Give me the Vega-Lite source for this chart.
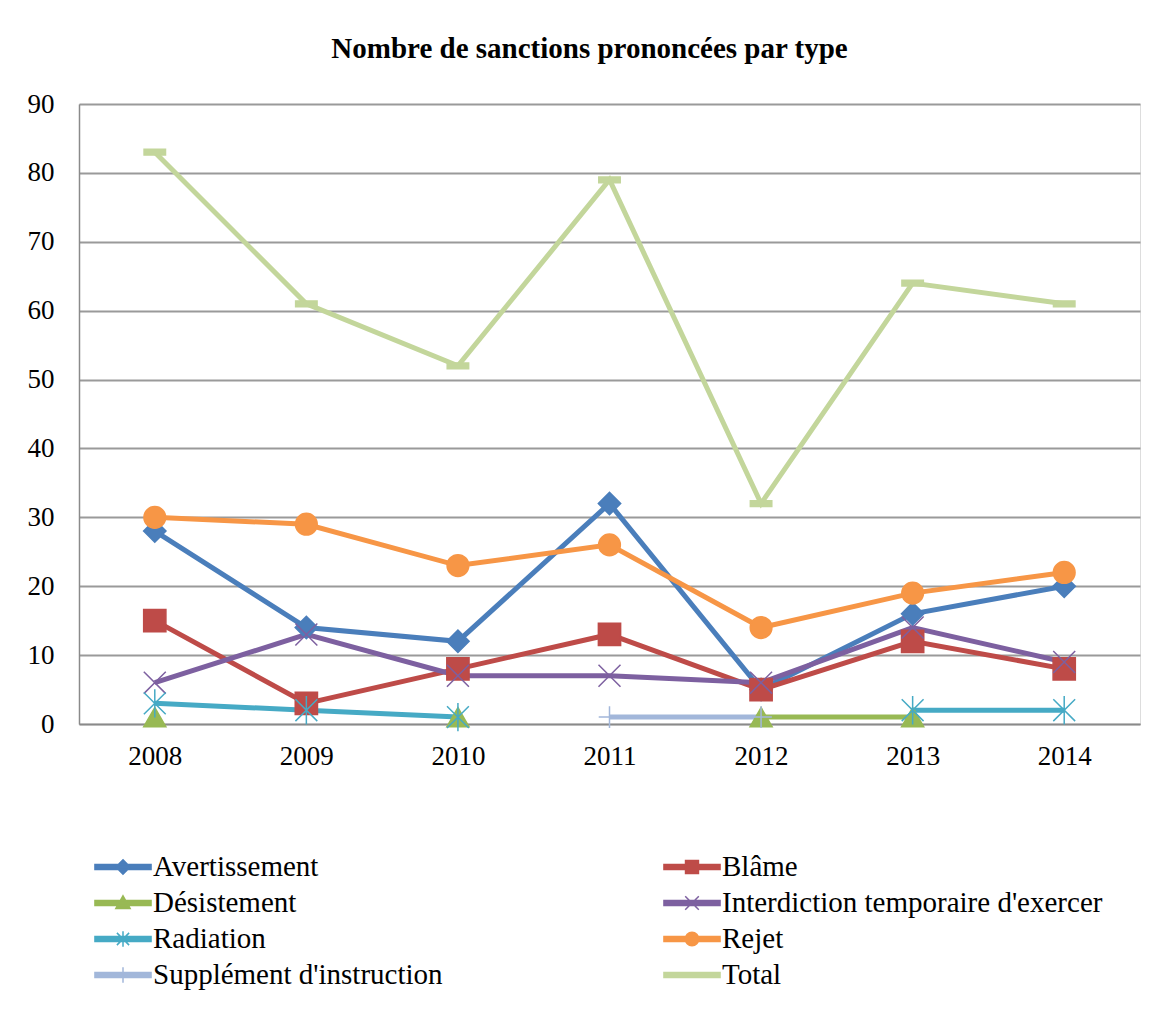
{
  "$schema": "https://vega.github.io/schema/vega-lite/v6.json",
  "width": 1061,
  "height": 620,
  "autosize": "none",
  "padding": {"left": 79, "top": 104, "right": 33, "bottom": 285},
  "background": "white",
  "title": {
    "text": "Nombre de sanctions prononcées par type",
    "font": "Liberation Serif",
    "fontSize": 29,
    "fontWeight": "bold",
    "color": "black",
    "anchor": "middle",
    "frame": "group",
    "dx": -20,
    "baseline": "alphabetic",
    "offset": 3
  },
  "data": {
    "values": [
      {"annee": "2008", "type": "Avertissement", "n": 28},
      {"annee": "2009", "type": "Avertissement", "n": 14},
      {"annee": "2010", "type": "Avertissement", "n": 12},
      {"annee": "2011", "type": "Avertissement", "n": 32},
      {"annee": "2012", "type": "Avertissement", "n": 5},
      {"annee": "2013", "type": "Avertissement", "n": 16},
      {"annee": "2014", "type": "Avertissement", "n": 20},
      {"annee": "2008", "type": "Blâme", "n": 15},
      {"annee": "2009", "type": "Blâme", "n": 3},
      {"annee": "2010", "type": "Blâme", "n": 8},
      {"annee": "2011", "type": "Blâme", "n": 13},
      {"annee": "2012", "type": "Blâme", "n": 5},
      {"annee": "2013", "type": "Blâme", "n": 12},
      {"annee": "2014", "type": "Blâme", "n": 8},
      {"annee": "2008", "type": "Désistement", "n": 1},
      {"annee": "2009", "type": "Désistement", "n": null},
      {"annee": "2010", "type": "Désistement", "n": 1},
      {"annee": "2011", "type": "Désistement", "n": null},
      {"annee": "2012", "type": "Désistement", "n": 1},
      {"annee": "2013", "type": "Désistement", "n": 1},
      {"annee": "2008", "type": "Interdiction temporaire d'exercer", "n": 6},
      {"annee": "2009", "type": "Interdiction temporaire d'exercer", "n": 13},
      {"annee": "2010", "type": "Interdiction temporaire d'exercer", "n": 7},
      {"annee": "2011", "type": "Interdiction temporaire d'exercer", "n": 7},
      {"annee": "2012", "type": "Interdiction temporaire d'exercer", "n": 6},
      {"annee": "2013", "type": "Interdiction temporaire d'exercer", "n": 14},
      {"annee": "2014", "type": "Interdiction temporaire d'exercer", "n": 9},
      {"annee": "2008", "type": "Radiation", "n": 3},
      {"annee": "2009", "type": "Radiation", "n": 2},
      {"annee": "2010", "type": "Radiation", "n": 1},
      {"annee": "2011", "type": "Radiation", "n": null},
      {"annee": "2012", "type": "Radiation", "n": null},
      {"annee": "2013", "type": "Radiation", "n": 2},
      {"annee": "2014", "type": "Radiation", "n": 2},
      {"annee": "2008", "type": "Rejet", "n": 30},
      {"annee": "2009", "type": "Rejet", "n": 29},
      {"annee": "2010", "type": "Rejet", "n": 23},
      {"annee": "2011", "type": "Rejet", "n": 26},
      {"annee": "2012", "type": "Rejet", "n": 14},
      {"annee": "2013", "type": "Rejet", "n": 19},
      {"annee": "2014", "type": "Rejet", "n": 22},
      {"annee": "2011", "type": "Supplément d'instruction", "n": 1},
      {"annee": "2012", "type": "Supplément d'instruction", "n": 1},
      {"annee": "2008", "type": "Total", "n": 83},
      {"annee": "2009", "type": "Total", "n": 61},
      {"annee": "2010", "type": "Total", "n": 52},
      {"annee": "2011", "type": "Total", "n": 79},
      {"annee": "2012", "type": "Total", "n": 32},
      {"annee": "2013", "type": "Total", "n": 64},
      {"annee": "2014", "type": "Total", "n": 61}
    ]
  },
  "encoding": {
    "x": {
      "field": "annee",
      "type": "ordinal",
      "scale": {"type": "point", "padding": 0.5},
      "axis": {
        "title": null,
        "labelAngle": 0,
        "ticks": false,
        "tickSize": 0,
        "grid": false,
        "domainColor": "#8a8a8a",
        "domainWidth": 1.5,
        "labelFont": "Liberation Serif",
        "labelFontSize": 27,
        "labelColor": "black",
        "labelPadding": 19
      }
    },
    "y": {
      "field": "n",
      "type": "quantitative",
      "scale": {"domain": [0, 90], "nice": false},
      "axis": {
        "title": null,
        "values": [0, 10, 20, 30, 40, 50, 60, 70, 80, 90],
        "ticks": false,
        "tickSize": 0,
        "grid": true,
        "gridColor": "#9a9a9a",
        "gridWidth": 1.8,
        "domainColor": "#8a8a8a",
        "domainWidth": 1.5,
        "labelFont": "Liberation Serif",
        "labelFontSize": 27,
        "labelColor": "black",
        "labelPadding": 25
      }
    }
  },
  "resolve": {"legend": {"color": "independent"}},
  "layer": [
    {
      "mark": {"type": "line", "strokeWidth": 5, "invalid": "break-paths-filter-domains"},
      "encoding": {
        "color": {
          "field": "type",
          "type": "nominal",
          "sort": null,
          "scale": {
            "domain": ["Avertissement", "Blâme", "Désistement", "Interdiction temporaire d'exercer", "Radiation", "Rejet", "Supplément d'instruction", "Total"],
            "range": ["#4A7EBB", "#BE4B48", "#98B954", "#7D60A0", "#46AAC5", "#F79646", "#A2B7DA", "#C3D69B"]
          },
          "legend": {
            "title": null,
            "orient": "none",
            "legendX": 16,
            "legendY": 745,
            "columns": 2,
            "direction": "horizontal",
            "gridAlign": "each",
            "columnPadding": 217,
            "rowPadding": 3,
            "padding": 0,
            "symbolSize": 1156,
            "symbolStrokeWidth": 1.5,
            "symbolOffset": 10,
            "labelOffset": 12,
            "labelFont": "Liberation Serif",
            "labelFontSize": 29,
            "labelColor": "black",
            "labelLimit": 600,
            "encode": {
              "symbols": {
                "update": {
                  "shape": {"signal": "datum.value === 'Avertissement' ? 'M-1.65,-0.147H1.65V0.147H-1.65ZM0,-0.42L0.42,0L0,0.42L-0.42,0Z' : datum.value === 'Blâme' ? 'M-1.65,-0.147H1.65V0.147H-1.65ZM-0.38,-0.38H0.38V0.38H-0.38Z' : datum.value === 'Désistement' ? 'M-1.65,-0.147H1.65V0.147H-1.65ZM0,-0.42L0.42,0.32H-0.42Z' : datum.value === 'Radiation' ? 'M-1.65,-0.147H1.65V0.147H-1.65ZM-0.36,-0.36L0.36,0.36M-0.36,0.36L0.36,-0.36M0,-0.45V0.45' : datum.value === 'Rejet' ? 'M-1.65,-0.147H1.65V0.147H-1.65ZM-0.4,0A0.4,0.4 0 1,1 0.4,0A0.4,0.4 0 1,1 -0.4,0Z' : datum.value === 'Supplément d\\'instruction' ? 'M-1.65,-0.147H1.65V0.147H-1.65ZM0,-0.45V0.45' : datum.value === 'Total' ? 'M-1.65,-0.147H1.65V0.147H-1.65Z' : 'M-1.65,-0.147H1.65V0.147H-1.65ZM-0.4,-0.4L0.4,0.4M-0.4,0.4L0.4,-0.4'"},
                  "fill": {"scale": "color", "field": "value"},
                  "stroke": {"scale": "color", "field": "value"},
                  "fillOpacity": {"value": 1},
                  "strokeOpacity": {"value": 1},
                  "opacity": {"value": 1}
                }
              }
            }
          }
        }
      }
    },
    {
      "mark": {"type": "point", "filled": true, "opacity": 1, "strokeWidth": 1.5},
      "encoding": {
        "color": {
          "field": "type",
          "type": "nominal",
          "legend": null
        },
        "stroke": {
          "field": "type",
          "type": "nominal",
          "scale": {
            "domain": ["Avertissement", "Blâme", "Désistement", "Interdiction temporaire d'exercer", "Radiation", "Rejet", "Supplément d'instruction", "Total"],
            "range": ["#4A7EBB", "#BE4B48", "#98B954", "#7D60A0", "#46AAC5", "#F79646", "#A2B7DA", "#C3D69B"]
          },
          "legend": null
        },
        "shape": {
          "field": "type",
          "type": "nominal",
          "scale": {
            "domain": ["Avertissement", "Blâme", "Désistement", "Interdiction temporaire d'exercer", "Radiation", "Rejet", "Supplément d'instruction", "Total"],
            "range": ["diamond", "square", "triangle-up", "M-1,-1L1,1M-1,1L1,-1", "M-1,-1L1,1M-1,1L1,-1M0,-1.3V1.3", "circle", "M-1,0H1M0,-1V1", "M-1,-0.27H1V0.27H-1Z"]
          },
          "legend": null
        },
        "size": {
          "field": "type",
          "type": "nominal",
          "scale": {
            "domain": ["Avertissement", "Blâme", "Désistement", "Interdiction temporaire d'exercer", "Radiation", "Rejet", "Supplément d'instruction", "Total"],
            "range": [500, 460, 480, 380, 400, 500, 300, 484]
          },
          "legend": null
        }
      }
    }
  ]
}
